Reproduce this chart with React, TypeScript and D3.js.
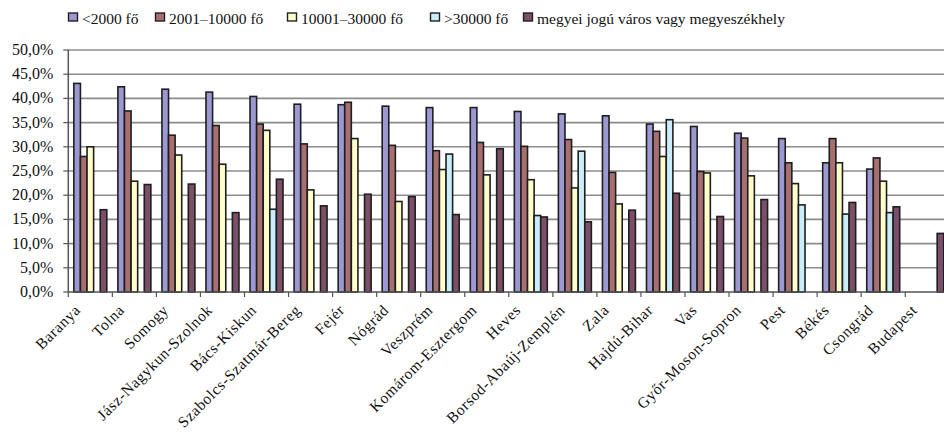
import React from "react";
import * as d3 from "d3";

// Counties (megyék), ordered as in the chart
const counties = [
  "Baranya", "Tolna", "Somogy", "Jász-Nagykun-Szolnok", "Bács-Kiskun",
  "Szabolcs-Szatmár-Bereg", "Fejér", "Nógrád", "Veszprém", "Komárom-Esztergom",
  "Heves", "Borsod-Abaúj-Zemplén", "Zala", "Hajdú-Bihar", "Vas",
  "Győr-Moson-Sopron", "Pest", "Békés", "Csongrád", "Budapest",
];

const seriesNames = [
  "<2000 fő",
  "2001–10000 fő",
  "10001–30000 fő",
  ">30000 fő",
  "megyei jogú város vagy megyeszékhely",
];

// Shares in percent; null = no settlement of that size class
const under2000: (number | null)[] = [
  43.1, 42.4, 41.9, 41.3, 40.4, 38.8, 38.7, 38.4, 38.1, 38.1,
  37.3, 36.8, 36.4, 34.7, 34.2, 32.8, 31.7, 26.7, 25.4, null,
];
const from2001to10000: (number | null)[] = [
  28.0, 37.4, 32.4, 34.4, 34.7, 30.6, 39.2, 30.3, 29.2, 30.9,
  30.1, 31.5, 24.7, 33.2, 24.9, 31.8, 26.7, 31.7, 27.7, null,
];
const from10001to30000: (number | null)[] = [
  30.0, 22.9, 28.3, 26.4, 33.4, 21.1, 31.7, 18.7, 25.3, 24.2,
  23.2, 21.5, 18.2, 28.0, 24.6, 24.0, 22.4, 26.7, 22.9, null,
];
const over30000: (number | null)[] = [
  null, null, null, null, 17.1, null, null, null, 28.5, null,
  15.8, 29.1, null, 35.6, null, null, 18.0, 16.1, 16.4, null,
];
const countySeat: (number | null)[] = [
  17.0, 22.2, 22.3, 16.4, 23.3, 17.8, 20.2, 19.7, 16.0, 29.6,
  15.5, 14.5, 16.9, 20.4, 15.6, 19.1, null, 18.5, 17.6, 12.1,
];

const seriesValues = [under2000, from2001to10000, from10001to30000, over30000, countySeat];
const seriesColors = ["#9b98d2", "#a86f70", "#ffffcc", "#c9eefa", "#7c4f68"];

const yTicks = [0, 5, 10, 15, 20, 25, 30, 35, 40, 45, 50];
const legendX = [68, 155, 287, 430, 523];

const W = 944;
const H = 440;
const plotLeft = 68.3;
const plotRight = 949.3;
const plotTop = 50;
const plotBottom = 292;
const FONT = '"Liberation Serif", "DejaVu Serif", serif';

export default function App() {
  const x = d3.scaleBand<string>().domain(counties).range([plotLeft, plotRight]).padding(0);
  const xi = d3
    .scaleBand<number>()
    .domain(d3.range(seriesNames.length))
    .range([0, x.bandwidth()])
    .paddingInner(0)
    .paddingOuter(0.84);
  const y = d3.scaleLinear().domain([0, 50]).range([plotBottom, plotTop]);
  const fmt = (v: number) => v.toFixed(1).replace(".", ",") + "%";
  const textStyle = { fontFamily: FONT, fontSize: 15 };

  return (
    <svg
      width={W}
      height={H}
      style={{ position: "absolute", left: 0, top: 0, background: "#fff" }}
    >
      <defs>
        <clipPath id="frame">
          <rect x={0} y={0} width={W} height={H} />
        </clipPath>
      </defs>

      {/* legend */}
      <g>
        {seriesNames.map((name, i) => (
          <g key={name} transform={`translate(${legendX[i]},0)`}>
            <rect x={0.5} y={13} width={9} height={8} fill={seriesColors[i]} stroke="#222" strokeWidth={1.4} />
            <text x={14} y={24} style={{ ...textStyle, fontSize: 15.5 }} fill="#111">
              {name}
            </text>
          </g>
        ))}
      </g>

      {/* gridlines */}
      <g>
        {yTicks.slice(1).map((t) => (
          <line key={t} x1={plotLeft} x2={plotRight} y1={y(t)} y2={y(t)} stroke="#8c8c8c" strokeWidth={1.6} />
        ))}
      </g>

      {/* bars */}
      <g clipPath="url(#frame)">
        {counties.map((c, ci) => (
          <g key={c} transform={`translate(${x(c)},0)`}>
            {seriesValues.map((vals, si) => {
              const v = vals[ci];
              if (v == null) return null;
              return (
                <rect
                  key={si}
                  x={xi(si)!}
                  y={y(v)}
                  width={xi.bandwidth()}
                  height={y(0) - y(v)}
                  fill={seriesColors[si]}
                  stroke="#1e1e1e"
                  strokeWidth={1.6}
                />
              );
            })}
          </g>
        ))}
      </g>

      {/* y axis */}
      <g>
        <line x1={plotLeft} x2={plotLeft} y1={plotTop} y2={plotBottom} stroke="#555" strokeWidth={1.5} />
        {yTicks.map((t) => (
          <g key={t}>
            <line x1={plotLeft - 5} x2={plotLeft} y1={y(t)} y2={y(t)} stroke="#555" strokeWidth={1.2} />
            <text x={plotLeft - 15} y={y(t) + 5} textAnchor="end" style={{ ...textStyle, fontSize: 16 }} fill="#111">
              {fmt(t)}
            </text>
          </g>
        ))}
      </g>

      {/* x axis */}
      <g>
        <line x1={plotLeft} x2={plotRight} y1={plotBottom} y2={plotBottom} stroke="#555" strokeWidth={1.5} />
        {counties.map((c) => (
          <line key={c} x1={x(c)!} x2={x(c)!} y1={plotBottom} y2={plotBottom + 5} stroke="#555" strokeWidth={1.2} />
        ))}
        {counties.map((c) => (
          <text
            key={c}
            transform={`translate(${x(c)! + x.bandwidth() / 2 - 9},311) rotate(-45)`}
            textAnchor="end"
            style={{ ...textStyle, fontSize: 15.5, letterSpacing: 0.6 }}
            fill="#111"
          >
            {c}
          </text>
        ))}
      </g>
    </svg>
  );
}
